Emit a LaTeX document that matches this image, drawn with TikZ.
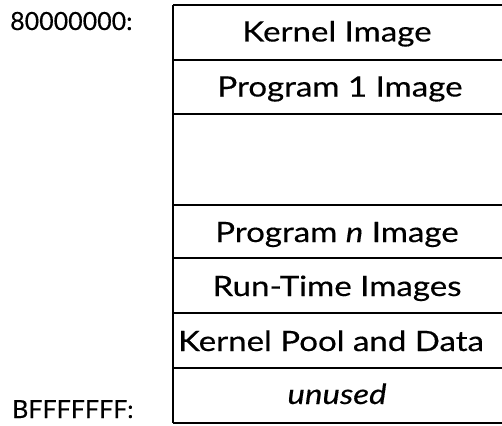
\documentclass[tikz,border=0pt]{standalone}
\usepackage{fontspec}
\setmainfont{Lato}[FakeStretch=1.18,FakeBold=0.4]
\newfontfamily\addrfont{Lato}[FakeBold=0.4]
\begin{document}
\begin{tikzpicture}[x=1pt,y=-1pt,
  rule/.style={line width=1.4pt},
  cell/.style={anchor=base,inner sep=0pt,font=\fontsize{28}{32}\selectfont},
  addr/.style={anchor=base west,inner sep=0pt,font=\addrfont\fontsize{25}{30}\selectfont}]
\useasboundingbox (0,0) rectangle (502,425);
% memory map column: left wall and row separators (open on the right)
\coordinate (tl) at (173,5);
\coordinate (bl) at (173,423);
\draw[rule] (tl) -- (bl);
\foreach \y in {5,60,114,205,258,313,368,423}
  \draw[rule] (173,\y) -- (502,\y);
% row labels
\node[cell] (kimg) at (337,41.5) {Kernel Image};
\node[cell] (p1) at (340,96.5) {Program 1 Image};
\node[cell] (pn) at (337,242) {Program \textit{n} Image};
\node[cell] (rt) at (337,296) {Run-Time Images};
\node[cell] (kpool) at (331,351) {Kernel Pool and Data};
\node[cell] (unused) at (337,404) {\textit{unused}};
% address labels
\node[addr] (start) at (10,30) {80000000:};
\node[addr] (end) at (12,418) {BFFFFFFF:};
\end{tikzpicture}
\end{document}
